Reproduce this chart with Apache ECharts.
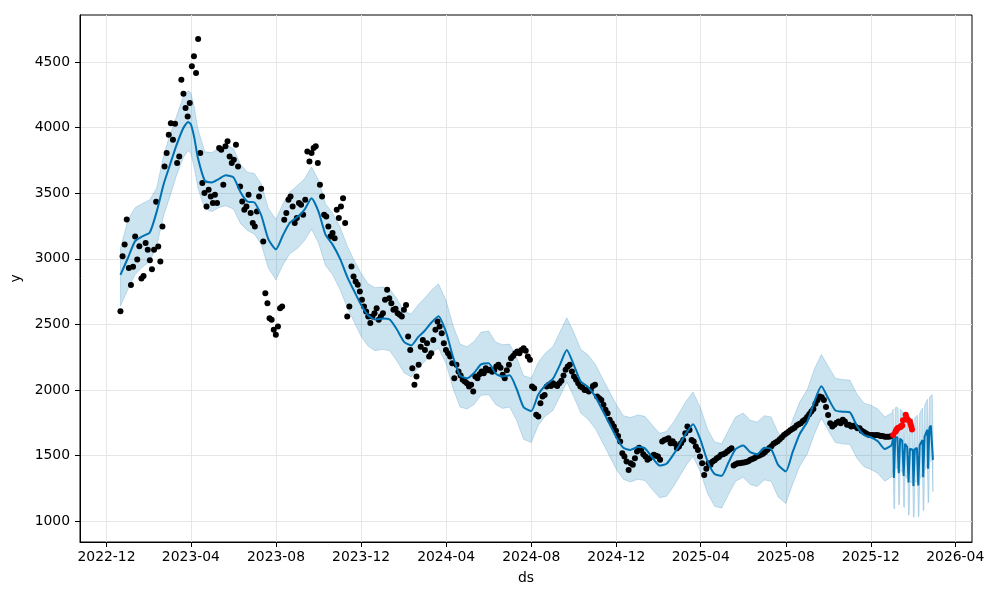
<!DOCTYPE html>
<html><head><meta charset="utf-8">
<script src="https://cdn.jsdelivr.net/npm/echarts@6/dist/echarts.min.js"></script>
<style>html,body{margin:0;padding:0;background:#fff}#c{width:1000px;height:600px}</style>
</head><body><div id="c"></div>
<script>
// ---------- tick labels ----------
const xTickLabels = ['2022-12','2023-04','2023-08','2023-12','2024-04','2024-08','2024-12','2025-04','2025-08','2025-12','2026-04'];
const yTickValues = [1000,1500,2000,2500,3000,3500,4000,4500];

// ---------- observed history (black dots), evenly spaced from obsStart to obsEnd ----------
const obsStart = '2022-12-21';
const obsEnd = '2025-12-30';
const obsValues = [
2600,3020,3110,3300,2930,2800,2940,3170,2995,3095,
2850,2870,3120,3070,2990,2920,3069,3435,3094,2980,
3246,3704,3806,3946,4034,3908,4030,3730,3780,4365,
4258,4149,4085,4187,4467,4543,4416,4675,3806,3577,
3501,3399,3526,3475,3425,3488,3425,3844,3831,3564,
3857,3895,3780,3730,3755,3869,3704,3551,3437,3374,
3399,3488,3349,3272,3246,3361,3475,3534,3132,2738,
2662,2548,2535,2459,2421,2484,2624,2637,3298,3349,
3450,3475,3399,3272,3311,3425,3412,3336,3450,3818,
3742,3806,3844,3857,3730,3564,3475,3336,3323,3246,
3170,3196,3157,3374,3311,3399,3462,3272,2560,2637,
2942,2865,2827,2802,2751,2688,2637,2598,2560,2510,
2560,2586,2624,2535,2560,2586,2688,2764,2700,2662,
2611,2620,2586,2573,2560,2611,2649,2408,2306,2167,
2040,2103,2192,2330,2382,2306,2357,2255,2281,2382,
2459,2522,2484,2433,2357,2306,2281,2255,2205,2090,
2192,2141,2110,2078,2065,2052,2027,2040,1989,2103,
2090,2120,2141,2128,2167,2150,2154,2140,2150,2179,
2192,2170,2116,2090,2150,2192,2243,2260,2281,2294,
2280,2306,2319,2300,2255,2230,2027,2014,1811,1798,
1900,1951,1963,2027,2040,2030,2052,2040,2030,2052,
2070,2110,2154,2179,2192,2141,2103,2078,2052,2027,
2020,2001,2001,1989,2000,2030,2040,1951,1938,1925,
1887,1849,1824,1773,1747,1722,1690,1650,1607,1519,
1493,1455,1391,1442,1430,1480,1531,1560,1544,1510,
1493,1468,1480,1493,1506,1500,1493,1468,1607,1620,
1625,1633,1595,1610,1590,1557,1570,1595,1620,1671,
1722,1696,1620,1607,1569,1544,1493,1442,1353,1400,
1442,1430,1455,1465,1480,1490,1506,1510,1519,1531,
1545,1557,1425,1435,1442,1442,1445,1447,1452,1458,
1468,1475,1482,1493,1500,1506,1515,1528,1544,1558,
1572,1590,1600,1610,1625,1640,1658,1668,1680,1694,
1703,1712,1730,1740,1747,1765,1775,1795,1815,1836,
1855,1895,1925,1951,1945,1925,1870,1810,1747,1722,
1735,1750,1760,1747,1773,1760,1735,1735,1722,1728,
1722,1709,1709,1690,1680,1671,1662,1658,1658,1655,
1658,1655,1650,1650,1645,1645,1645,1648
];

// ---------- actual values after the training window (red dots) ----------
const testDates = ['2026-01-02','2026-01-05','2026-01-06','2026-01-07','2026-01-08','2026-01-09','2026-01-12','2026-01-13','2026-01-14','2026-01-15','2026-01-16','2026-01-20','2026-01-21','2026-01-22','2026-01-23','2026-01-26','2026-01-27','2026-01-28','2026-01-29'];
const testValues = [1658,1680,1690,1700,1705,1712,1717,1722,1727,1730,1770,1811,1793,1775,1773,1760,1740,1720,1700];

// ---------- fitted forecast over the history ----------
const fcDates = ['2022-12-21','2023-01-01','2023-01-11','2023-01-21','2023-02-01','2023-02-11','2023-02-21','2023-03-01','2023-03-11','2023-03-21','2023-03-28','2023-04-01','2023-04-06','2023-04-11','2023-04-21',
'2023-05-01','2023-05-11','2023-05-21','2023-06-01','2023-06-11','2023-06-21','2023-07-01','2023-07-11','2023-07-21','2023-08-01','2023-08-11','2023-08-21','2023-09-01','2023-09-11','2023-09-21','2023-10-01','2023-10-11','2023-10-21','2023-11-01','2023-11-11','2023-11-21','2023-12-01','2023-12-11','2023-12-21',
'2024-01-01','2024-01-11','2024-01-21','2024-02-01','2024-02-11','2024-02-21','2024-03-01','2024-03-11','2024-03-21','2024-04-01','2024-04-11','2024-04-21','2024-05-01','2024-05-11','2024-05-21','2024-06-01','2024-06-11','2024-06-21','2024-07-01','2024-07-11','2024-07-21','2024-08-01','2024-08-11','2024-08-21','2024-09-01','2024-09-11','2024-09-21','2024-10-01','2024-10-11','2024-10-21','2024-11-01','2024-11-11','2024-11-21','2024-12-01','2024-12-11','2024-12-21',
'2025-01-01','2025-01-11','2025-01-21','2025-02-01','2025-02-11','2025-02-21','2025-03-01','2025-03-11','2025-03-21','2025-04-01','2025-04-11','2025-04-21','2025-05-01','2025-05-11','2025-05-21','2025-06-01','2025-06-11','2025-06-21','2025-07-01','2025-07-11','2025-07-21','2025-08-01','2025-08-11','2025-08-21','2025-09-01','2025-09-11','2025-09-21','2025-10-01','2025-10-11','2025-10-21','2025-11-01','2025-11-11','2025-11-21','2025-12-01','2025-12-11','2025-12-21','2025-12-31'];
const fcYhat = [2878,3010,3135,3170,3200,3360,3570,3700,3860,3995,4042,4025,3920,3770,3595,
3582,3608,3636,3620,3510,3437,3430,3330,3150,3072,3180,3275,3320,3375,3462,3360,3185,3110,3000,2865,2755,2650,2570,2538,
2546,2537,2465,2365,2340,2405,2450,2515,2563,2440,2250,2110,2090,2130,2195,2205,2125,2103,2112,2010,1870,1840,1965,2035,2085,2190,2305,2192,2065,2025,1950,1847,1745,1640,1560,1544,
1565,1555,1490,1425,1438,1510,1578,1670,1740,1615,1455,1360,1346,1450,1550,1578,1527,1510,1560,1550,1430,1380,1530,1665,1760,1912,2028,1935,1845,1835,1830,1725,1658,1640,1610,1550,1580];
const fcUpper = [3080,3300,3390,3420,3450,3540,3790,3930,4080,4235,4280,4265,4150,3990,3815,
3810,3840,3870,3840,3720,3660,3650,3570,3385,3300,3420,3510,3560,3610,3700,3600,3420,3350,3240,3100,2990,2890,2810,2780,
2785,2770,2700,2600,2580,2650,2700,2760,2810,2680,2490,2350,2330,2370,2440,2450,2365,2345,2350,2250,2110,2090,2210,2280,2330,2440,2550,2440,2310,2270,2195,2090,1990,1890,1805,1790,
1810,1800,1735,1670,1685,1755,1825,1915,1985,1860,1700,1605,1590,1695,1795,1825,1770,1755,1805,1795,1675,1625,1775,1910,2005,2160,2270,2180,2090,2080,2075,1970,1900,1885,1855,1795,1825];
const fcLower = [2640,2770,2880,2935,2980,3100,3330,3460,3630,3770,3825,3805,3690,3540,3380,
3360,3390,3405,3380,3270,3215,3190,3110,2930,2840,2955,3040,3080,3140,3225,3120,2950,2880,2765,2630,2520,2410,2335,2300,
2310,2300,2225,2130,2100,2170,2215,2280,2320,2200,2010,1870,1855,1890,1960,1965,1890,1860,1870,1770,1625,1600,1730,1800,1845,1950,2060,1950,1825,1780,1705,1605,1500,1395,1320,1300,
1320,1310,1245,1180,1190,1265,1335,1425,1495,1370,1210,1115,1100,1205,1305,1335,1280,1265,1315,1305,1185,1135,1285,1420,1515,1665,1785,1690,1600,1590,1585,1480,1415,1395,1365,1305,1340];

// ---------- daily future forecast from futStart ----------
const futStart = '2026-01-01';
const futYhat = [1610,1630,1330,1328,1640,1642,1645,1640,1638,1366,1370,1630,1625,1620,1612,1605,1345,1341,1590,1582,1575,1568,1560,1295,1290,1552,1548,1544,1544,1546,1268,1264,1550,1552,1556,1560,1565,1272,1275,1580,1590,1600,1610,1620,1335,1345,1645,1660,1672,1685,1698,1400,1410,1712,1722,1730,1735,1740,1468];
const futUpper = [1835,1855,1560,1556,1865,1868,1870,1866,1864,1598,1602,1856,1852,1846,1840,1832,1578,1574,1818,1810,1804,1798,1790,1530,1526,1782,1780,1778,1780,1784,1506,1503,1790,1794,1798,1802,1808,1518,1522,1820,1830,1842,1852,1862,1585,1596,1880,1895,1906,1918,1930,1650,1660,1940,1950,1958,1962,1965,1725];
const futLower = [1380,1395,1099,1095,1405,1405,1410,1400,1400,1124,1130,1392,1385,1380,1375,1365,1112,1105,1350,1340,1335,1325,1318,1048,1050,1305,1300,1296,1295,1296,1035,1030,1298,1300,1302,1305,1310,1035,1038,1322,1330,1340,1350,1360,1080,1088,1385,1398,1408,1420,1432,1140,1150,1445,1455,1462,1465,1470,1226];

// ---------- helpers ----------
function ts(s){const p=s.split('-').map(Number);return new Date(p[0],p[1]-1,p[2]||1).getTime();}
const t0 = ts(obsStart), t1 = ts(obsEnd);
const obsData = obsValues.map((v,i)=>[t0 + i*(t1-t0)/(obsValues.length-1), v]);
const testData = testDates.map((d,i)=>[ts(d), testValues[i]]);
const fs = ts(futStart);
const futT = futYhat.map((v,i)=>{const d=new Date(fs); d.setDate(d.getDate()+i); return d.getTime();});
const histT = fcDates.map(ts);
const histLine = histT.map((t,i)=>[t, fcYhat[i]]);
const futLine = [[histT[histT.length-1], fcYhat[fcYhat.length-1]]].concat(futT.map((t,i)=>[t, futYhat[i]]));
const bandT = histT.concat(futT);
const bandU = fcUpper.concat(futUpper);
const bandL = fcLower.concat(futLower);
const xTickValues = xTickLabels.map(ts);

const FONT = 'DejaVu Sans';
const chart = echarts.init(document.getElementById('c'), null, {renderer:'canvas'});
chart.setOption({
  animation:false,
  backgroundColor:'#fff',
  grid:{left:80, right:28, top:15, bottom:58, show:true, borderColor:'#000', borderWidth:1, backgroundColor:'transparent'},
  xAxis:{
    type:'value', min: ts('2022-10-24'), max: ts('2026-04-25'), scale:true,
    name:'ds', nameLocation:'middle', nameGap:29,
    nameTextStyle:{fontFamily:FONT, fontSize:13.9, color:'#000'},
    axisLine:{show:true, onZero:false, lineStyle:{color:'#000', width:1}},
    axisTick:{show:true, length:5, lineStyle:{color:'#000', width:1}, customValues: xTickValues},
    axisLabel:{fontFamily:FONT, fontSize:13.9, color:'#000', margin:8, customValues: xTickValues,
      formatter:function(v){const d=new Date(v);return d.getFullYear()+'-'+String(d.getMonth()+1).padStart(2,'0');}},
    splitLine:{show:true, lineStyle:{color:'#e6e6e6', width:1}}
  },
  yAxis:{
    type:'value', min:842, max:4858, scale:true,
    name:'y', nameLocation:'middle', nameGap:50, nameRotate:90,
    nameTextStyle:{fontFamily:FONT, fontSize:13.9, color:'#000'},
    axisLine:{show:true, onZero:false, lineStyle:{color:'#000', width:1}},
    axisTick:{show:true, length:5, lineStyle:{color:'#000', width:1}, customValues:yTickValues},
    axisLabel:{fontFamily:FONT, fontSize:13.9, color:'#000', margin:10, customValues:yTickValues,
      formatter:function(v){return String(v);}},
    splitLine:{show:true, lineStyle:{color:'#e6e6e6', width:1}}
  },
  series:[
    {type:'custom', z:1, silent:true, clip:true,
     data:[[bandT[0], bandU[0]]],
     renderItem:function(params, api){
       const pts=[];
       for(let i=0;i<bandT.length;i++) pts.push(api.coord([bandT[i], bandU[i]]));
       for(let i=bandT.length-1;i>=0;i--) pts.push(api.coord([bandT[i], bandL[i]]));
       return {type:'polygon', shape:{points:pts}, style:{fill:'rgba(0,114,178,0.2)', stroke:'rgba(0,114,178,0.2)', lineWidth:1}};
     }},
    {type:'scatter', z:2, data:obsData, symbolSize:6, itemStyle:{color:'#000', opacity:1}, silent:true},
    {type:'line', z:3, data:histLine, smooth:0.2, showSymbol:false, lineStyle:{color:'#0072B2', width:2}, silent:true},
    {type:'line', z:3, data:futLine, smooth:false, showSymbol:false, lineStyle:{color:'#0072B2', width:2}, silent:true},
    {type:'scatter', z:4, data:testData, symbolSize:6, itemStyle:{color:'#ff0000', opacity:1}, silent:true}
  ]
});
</script>
</body></html>
